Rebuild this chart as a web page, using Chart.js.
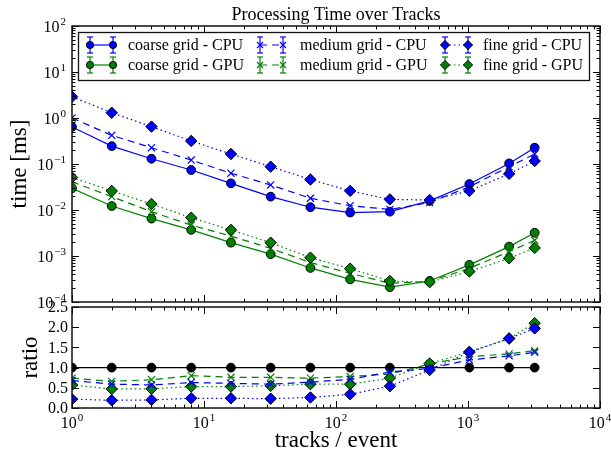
<!DOCTYPE html>
<html>
<head>
<meta charset="utf-8">
<script src="https://cdn.jsdelivr.net/npm/chart.js@4.4.1/dist/chart.umd.min.js"></script>
<style>
  body { margin: 0; background: #fff; }
  #wrap { position: relative; width: 611px; height: 454px; overflow: hidden; }
  canvas { position: absolute; left: 0; }
</style>
</head>
<body>
<div id="wrap">
  <canvas id="timeChart" width="611" height="315" style="top:0"></canvas>
  <canvas id="ratioChart" width="611" height="164" style="top:290px"></canvas>
</div>
<script>
// values
const tracks = [1, 2, 4, 8, 16, 32, 64, 128, 256, 512, 1024, 2048, 3200];

const coarseCPU = [0.64, 0.245, 0.13, 0.074, 0.038, 0.0195, 0.0115, 0.0088, 0.0092, 0.0158, 0.0367, 0.103, 0.226];
const mediumCPU = [1.0, 0.42, 0.226, 0.122, 0.063, 0.035, 0.018, 0.0124, 0.0103, 0.0145, 0.032, 0.087, 0.165];
const fineCPU = [2.9, 1.3, 0.65, 0.316, 0.165, 0.0875, 0.046, 0.026, 0.017, 0.0165, 0.026, 0.061, 0.116];
const coarseGPU = [0.0296, 0.0122, 0.0065, 0.0037, 0.00195, 0.0011, 0.00055, 0.00031, 0.00021, 0.000286, 0.00064, 0.0016, 0.0032];
const mediumGPU = [0.041, 0.0195, 0.0092, 0.0047, 0.0027, 0.00147, 0.00072, 0.00042, 0.000255, 0.00028, 0.00054, 0.00124, 0.0022];
const fineGPU = [0.051, 0.026, 0.0135, 0.0068, 0.0037, 0.00195, 0.00092, 0.00053, 0.000286, 0.00027, 0.00046, 0.00089, 0.0015];

const ratioCoarse = [1, 1, 1, 1, 1, 1, 1, 1, 1, 1, 1, 1, 1];
const ratioMediumCPU = [0.68, 0.59, 0.57, 0.63, 0.61, 0.59, 0.64, 0.71, 0.89, 0.98, 1.19, 1.29, 1.38];
const ratioFineCPU = [0.22, 0.19, 0.20, 0.24, 0.24, 0.23, 0.26, 0.34, 0.54, 0.94, 1.38, 1.72, 1.97];
const ratioMediumGPU = [0.74, 0.66, 0.70, 0.80, 0.76, 0.76, 0.74, 0.78, 0.84, 1.09, 1.27, 1.34, 1.42];
const ratioFineGPU = [0.57, 0.47, 0.475, 0.53, 0.53, 0.55, 0.59, 0.59, 0.74, 1.1, 1.39, 1.72, 2.1];

const xTickExps = [0, 1, 2, 3, 4];
const yTickExps = [-4, -3, -2, -1, 0, 1, 2];
const ratioTicks = [0, 0.5, 1.0, 1.5, 2.0, 2.5];
const ratioTickLabels = ['0.0', '0.5', '1.0', '1.5', '2.0', '2.5'];

const legendLabels = [
  ['coarse grid - CPU', 'coarse grid - GPU'],
  ['medium grid - CPU', 'medium grid - GPU'],
  ['fine grid - CPU', 'fine grid - GPU']
];

const BLUE = '#0000ff';
const GREEN = '#008000';
const SERIF = '"Liberation Serif", "DejaVu Serif", serif';
const DASH = { coarse: [], medium: [7, 5], fine: [1.5, 3] };

function series(label, data, color, kind, order) {
  const ds = {
    label: label,
    data: data.map((v, i) => ({ x: tracks[i], y: v })),
    borderColor: color,
    borderWidth: 1.2,
    borderDash: DASH[kind],
    fill: false,
    tension: 0,
    order: order,
    pointBorderWidth: 1
  };
  if (kind === 'coarse') {
    ds.pointStyle = 'circle'; ds.pointRadius = 4.4;
    ds.pointBackgroundColor = color; ds.pointBorderColor = '#000';
  } else if (kind === 'medium') {
    ds.pointStyle = 'crossRot'; ds.pointRadius = 5;
    ds.pointBorderColor = color; ds.pointBorderWidth = 1.2;
  } else {
    ds.pointStyle = 'rectRot'; ds.pointRadius = 5.7;
    ds.pointBackgroundColor = color; ds.pointBorderColor = '#000';
  }
  return ds;
}

function logTicks(minExp, maxExp) {
  const out = [];
  for (let e = minExp; e <= maxExp; e++) {
    const d = Math.pow(10, e);
    out.push({ v: d, major: true });
    if (e < maxExp) for (let k = 2; k <= 9; k++) out.push({ v: k * d, major: false });
  }
  return out;
}

function seg(ctx, x1, y1, x2, y2) {
  ctx.beginPath(); ctx.moveTo(x1, y1); ctx.lineTo(x2, y2); ctx.stroke();
}

function powLabel(ctx, exp, x, y, align) {
  const sup = (exp < 0 ? '\u2212' : '') + Math.abs(exp);
  ctx.font = '16px ' + SERIF;
  const wb = ctx.measureText('10').width;
  ctx.font = '11px ' + SERIF;
  const ws = ctx.measureText(sup).width;
  const total = wb + ws + 1;
  const x0 = align === 'right' ? x - total : x - total / 2;
  ctx.textAlign = 'left';
  ctx.textBaseline = 'alphabetic';
  ctx.font = '16px ' + SERIF;
  ctx.fillText('10', x0, y);
  ctx.font = '11px ' + SERIF;
  ctx.fillText(sup, x0 + wb + 1, y - 7);
}

function marker(ctx, kind, color, x, y, r) {
  ctx.save();
  ctx.setLineDash([]);
  ctx.beginPath();
  if (kind === 'medium') {
    const d = r * 0.75;
    ctx.moveTo(x - d, y - d); ctx.lineTo(x + d, y + d);
    ctx.moveTo(x + d, y - d); ctx.lineTo(x - d, y + d);
    ctx.strokeStyle = color; ctx.lineWidth = 1.2; ctx.stroke();
  } else {
    if (kind === 'coarse') ctx.arc(x, y, r, 0, Math.PI * 2);
    else { ctx.moveTo(x, y - r); ctx.lineTo(x + r, y); ctx.lineTo(x, y + r); ctx.lineTo(x - r, y); ctx.closePath(); }
    ctx.fillStyle = color; ctx.fill();
    ctx.strokeStyle = '#000'; ctx.lineWidth = 1; ctx.stroke();
  }
  ctx.restore();
}

function drawLegend(ctx) {
  ctx.save();
  ctx.fillStyle = '#fff';
  ctx.fillRect(78, 32, 512, 49);
  ctx.strokeStyle = '#111';
  ctx.lineWidth = 1.3;
  ctx.strokeRect(78.5, 32.5, 511, 48);
  const kinds = ['coarse', 'medium', 'fine'];
  const glyphX = [90, 260, 445];
  const textX = [128, 300, 483];
  const rowY = [45, 65];
  const colors = [BLUE, GREEN];
  const sizes = { coarse: 3.6, medium: 4, fine: 4.6 };
  kinds.forEach((kind, c) => {
    rowY.forEach((y, r) => {
      const color = colors[r];
      const x0 = glyphX[c], x1 = x0 + 23;
      ctx.strokeStyle = color;
      ctx.lineWidth = 1.2;
      ctx.setLineDash(DASH[kind]);
      seg(ctx, x0, y, x1, y);
      ctx.setLineDash([]);
      [x0, x1].forEach(px => {
        seg(ctx, px, y - 8, px, y + 8);
        seg(ctx, px - 3, y - 8, px + 3, y - 8);
        seg(ctx, px - 3, y + 8, px + 3, y + 8);
        marker(ctx, kind, color, px, y, sizes[kind]);
      });
      ctx.fillStyle = '#000';
      ctx.font = '16px ' + SERIF;
      ctx.textAlign = 'left';
      ctx.textBaseline = 'middle';
      ctx.fillText(legendLabels[c][r], textX[c], y + 1);
    });
  });
  ctx.restore();
}

const panelPlugin = {
  id: 'panel',
  afterDatasetsDraw(chart, args, opts) {
    const ctx = chart.ctx;
    const a = chart.chartArea;
    const x = chart.scales.x, y = chart.scales.y;
    ctx.save();
    ctx.strokeStyle = '#000';
    ctx.lineWidth = 1;
    logTicks(0, 4).forEach(t => {
      const px = Math.round(x.getPixelForValue(t.v)) + 0.5;
      const len = t.major ? 7 : 3.5;
      seg(ctx, px, a.bottom, px, a.bottom - len);
      seg(ctx, px, a.top, px, a.top + len);
    });
    const yt = opts.yLog ? logTicks(-4, 2) : ratioTicks.map(v => ({ v: v, major: true }));
    yt.forEach(t => {
      const py = Math.round(y.getPixelForValue(t.v)) + 0.5;
      const len = t.major ? 7 : 3.5;
      seg(ctx, a.left, py, a.left + len, py);
      seg(ctx, a.right, py, a.right - len, py);
    });
    ctx.lineWidth = 1.5;
    ctx.strokeStyle = '#111';
    ctx.strokeRect(a.left, a.top, a.right - a.left, a.bottom - a.top);

    ctx.fillStyle = '#000';
    if (opts.yLog) {
      yTickExps.forEach(e => powLabel(ctx, e, a.left - 6, y.getPixelForValue(Math.pow(10, e)) + 6, 'right'));
    } else {
      ctx.font = '16px ' + SERIF;
      ctx.textAlign = 'right';
      ctx.textBaseline = 'middle';
      ratioTicks.forEach((v, i) => ctx.fillText(ratioTickLabels[i], a.left - 4, y.getPixelForValue(v) + 1));
    }
    if (opts.xLabels) {
      xTickExps.forEach(e => powLabel(ctx, e, x.getPixelForValue(Math.pow(10, e)), a.bottom + 20, 'center'));
      ctx.font = '23px ' + SERIF;
      ctx.textAlign = 'center';
      ctx.textBaseline = 'middle';
      ctx.fillText('tracks / event', (a.left + a.right) / 2, a.bottom + 33);
    }
    if (opts.title) {
      ctx.font = '18px ' + SERIF;
      ctx.textAlign = 'center';
      ctx.textBaseline = 'alphabetic';
      ctx.fillText(opts.title, (a.left + a.right) / 2, 20);
    }
    if (opts.yTitle) {
      ctx.save();
      ctx.translate(opts.yTitleX, (a.top + a.bottom) / 2);
      ctx.rotate(-Math.PI / 2);
      ctx.font = '23px ' + SERIF;
      ctx.textAlign = 'center';
      ctx.textBaseline = 'middle';
      ctx.fillText(opts.yTitle, 0, 0);
      ctx.restore();
    }
    if (opts.legend) drawLegend(ctx);
    ctx.restore();
  }
};

function baseOptions(yScale, padTop, xHeight, panel) {
  return {
    responsive: false,
    animation: false,
    layout: { padding: { top: padTop, right: 11, left: 0, bottom: 0 } },
    scales: {
      x: {
        type: 'logarithmic', min: 1, max: 10000,
        ticks: { display: false }, grid: { display: false }, border: { display: false },
        afterFit: s => { s.height = xHeight; }
      },
      y: Object.assign({
        ticks: { display: false }, grid: { display: false }, border: { display: false },
        afterFit: s => { s.width = 72; }
      }, yScale)
    },
    plugins: { legend: { display: false }, tooltip: { enabled: false }, panel: panel }
  };
}

new Chart(document.getElementById('timeChart'), {
  type: 'line',
  data: {
    datasets: [
      series('coarse grid - CPU', coarseCPU, BLUE, 'coarse', 0),
      series('coarse grid - GPU', coarseGPU, GREEN, 'coarse', -1),
      series('medium grid - CPU', mediumCPU, BLUE, 'medium', -2),
      series('medium grid - GPU', mediumGPU, GREEN, 'medium', -3),
      series('fine grid - CPU', fineCPU, BLUE, 'fine', -4),
      series('fine grid - GPU', fineGPU, GREEN, 'fine', -5)
    ]
  },
  options: baseOptions({ type: 'logarithmic', min: 1e-4, max: 100 }, 26, 13,
    { yLog: true, title: 'Processing Time over Tracks', yTitle: 'time [ms]', yTitleX: 20, legend: true }),
  plugins: [panelPlugin]
});

const coarseRatio = series('coarse', ratioCoarse, '#000', 'coarse', 0);
coarseRatio.pointBackgroundColor = '#000';

new Chart(document.getElementById('ratioChart'), {
  type: 'line',
  data: {
    datasets: [
      coarseRatio,
      series('medium grid - GPU', ratioMediumGPU, GREEN, 'medium', -1),
      series('fine grid - GPU', ratioFineGPU, GREEN, 'fine', -2),
      series('medium grid - CPU', ratioMediumCPU, BLUE, 'medium', -3),
      series('fine grid - CPU', ratioFineCPU, BLUE, 'fine', -4)
    ]
  },
  options: baseOptions({ type: 'linear', min: 0, max: 2.5 }, 17, 46,
    { yLog: false, xLabels: true, yTitle: 'ratio', yTitleX: 31 }),
  plugins: [panelPlugin]
});
</script>
</body>
</html>
